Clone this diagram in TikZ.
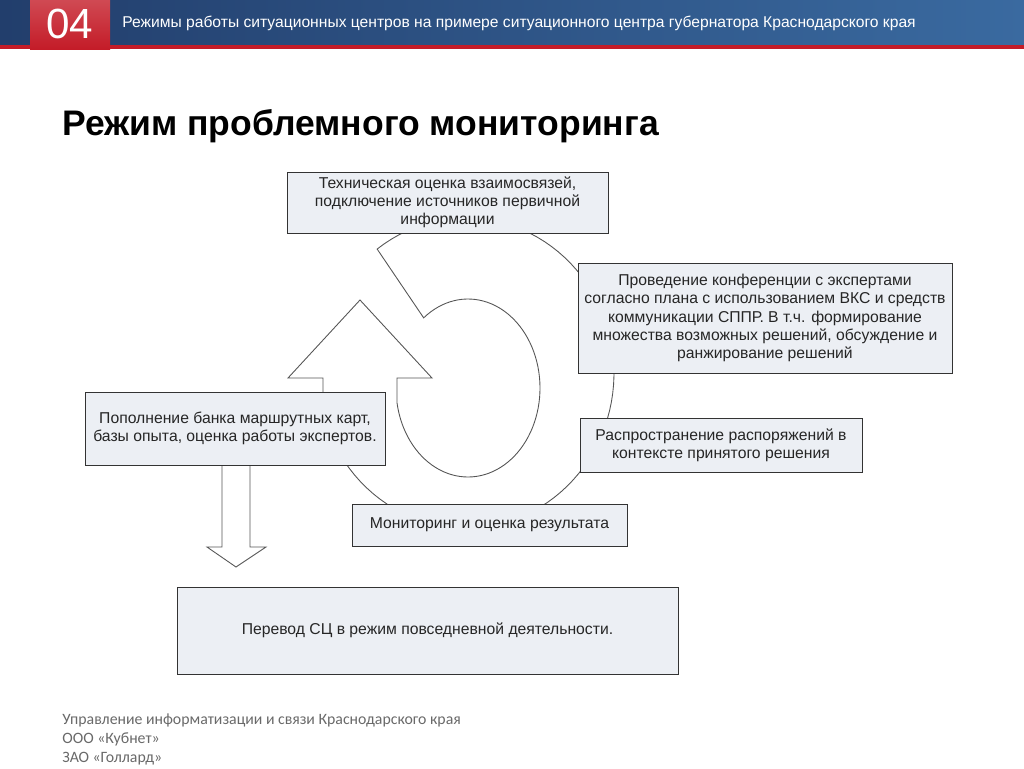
\documentclass[tikz,border=0pt]{standalone}
\usepackage{fontspec}
\setmainfont{Liberation Sans}
\newfontfamily\footfont{Carlito}
\usetikzlibrary{shadows}

\definecolor{bardark}{RGB}{34,62,108}
\definecolor{barlight}{RGB}{58,106,160}
\definecolor{barred}{RGB}{196,28,40}
\definecolor{boxfill}{RGB}{236,239,244}
\definecolor{ringgray}{RGB}{85,85,85}
\definecolor{footgray}{RGB}{105,105,105}

\newlength{\pxu}
\setlength{\pxu}{0.02cm}

\tikzset{
  stagebox/.style={draw=black!80, fill=boxfill, line width=0.5pt, align=center,
    inner sep=0pt, text=black!85, font=\fontsize{8.95}{10.3}\selectfont,
    drop shadow={shadow xshift=0.6pt, shadow yshift=-0.6pt, fill=black!60, opacity=0.9}},
  ringline/.style={draw=ringgray, line width=0.5pt, fill=white},
}

\begin{document}
\begin{tikzpicture}[x=0.02cm, y=-0.02cm]
    \useasboundingbox (0,0) rectangle (1024,768);

    % Шапка слайда
    \shade[left color=bardark, right color=barlight] (0,0) rectangle (1024,45);
    \fill[barred] (0,45) rectangle (1024,49);
    \shade[top color=barred!80!white, bottom color=barred] (30,0) rectangle (110,49);
    \node[text=white, font=\fontsize{24}{24}\selectfont] (num) at (70,24) {04};
    \node[anchor=west, text=white, font=\fontsize{8.9}{11}\selectfont, inner sep=0pt] (head) at (122,23)
        {Режимы работы ситуационных центров на примере ситуационного центра губернатора Краснодарского края};

    % Заголовок
    \node[anchor=west, inner sep=0pt, font=\fontsize{20.2}{24}\selectfont\bfseries] (title) at (62,126)
        {Режим проблемного мониторинга};

    % Круговая стрелка
    \draw[ringline] plot[domain=233.1:525, samples=90] ({466+148*cos(\x)}, {373+155*sin(\x)})
        -- (323,378) -- (288,378) -- (360,300) -- (432,378) -- (397,378)
        -- plot[domain=530.3:232, samples=90] ({468+72*cos(\x)}, {388+89*sin(\x)}) -- cycle;

    % Стрелка вниз
    \draw[ringline] (222,465) -- (222,547) -- (207,547) -- (236,567) -- (266,547)
        -- (250,547) -- (250,465);

    % Этапы
    \node[stagebox, minimum width=321\pxu, minimum height=61\pxu] (tech) at (447.5,202.5)
        {Техническая оценка взаимосвязей,\\ подключение источников первичной\\ информации};
    \node[stagebox, minimum width=374\pxu, minimum height=110\pxu] (conf) at (765,318)
        {Проведение конференции с экспертами\\ согласно плана с использованием ВКС и средств\\
         коммуникации СППР. В т.ч. формирование\\ множества возможных решений, обсуждение и\\
         ранжирование решений};
    \node[stagebox, minimum width=282\pxu, minimum height=54\pxu] (spread) at (721,445)
        {Распространение распоряжений в\\ контексте принятого решения};
    \node[stagebox, minimum width=275\pxu, minimum height=42\pxu] (monit) at (489.5,525)
        {Мониторинг и оценка результата};
    \node[stagebox, minimum width=300\pxu, minimum height=73\pxu] (bank) at (235,428.5)
        {Пополнение банка маршрутных карт,\\ базы опыта, оценка работы экспертов.};
    \node[stagebox, minimum width=501\pxu, minimum height=87\pxu] (daily) at (427.5,630.5)
        {Перевод СЦ в режим повседневной деятельности.};

    % Подвал
    \node[anchor=north west, align=left, inner sep=0pt, text=footgray,
        font=\footfont\fontsize{9}{11}\selectfont] (foot) at (62,713)
        {Управление информатизации и связи Краснодарского края\\ ООО «Кубнет»\\ ЗАО «Голлард»};
\end{tikzpicture}
\end{document}
